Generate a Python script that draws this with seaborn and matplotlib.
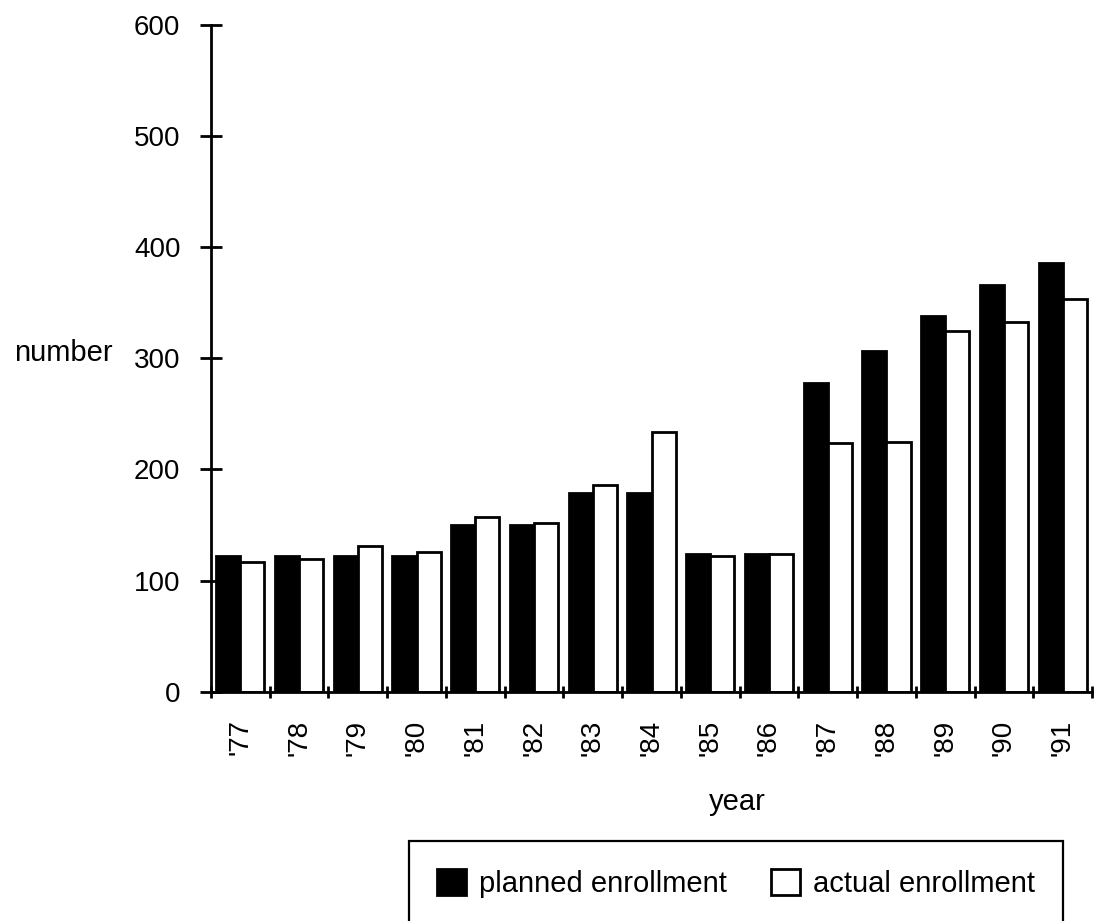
import matplotlib
matplotlib.use("Agg")
import matplotlib.pyplot as plt
import pandas as pd
import seaborn as sns

# values
years = ["'77", "'78", "'79", "'80", "'81", "'82", "'83", "'84",
         "'85", "'86", "'87", "'88", "'89", "'90", "'91"]
planned = [122, 122, 122, 122, 150, 150, 179, 179, 124, 124, 278, 307, 338, 366, 386]
actual = [117, 119, 131, 126, 157, 152, 186, 234, 122, 124, 224, 225, 325, 333, 353]
series_names = ["planned enrollment", "actual enrollment"]
y_ticks = [0, 100, 200, 300, 400, 500, 600]


def build_df():
    rows = []
    for i, year in enumerate(years):
        rows.append([year, series_names[0], planned[i]])
        rows.append([year, series_names[1], actual[i]])
    return pd.DataFrame(rows, columns=["year", "kind", "number"])


def main():
    df = build_df()

    sns.set_theme(style="ticks")
    plt.rcParams["font.family"] = ["Liberation Sans", "DejaVu Sans"]
    for key in ["text.color", "axes.labelcolor", "xtick.color", "ytick.color"]:
        plt.rcParams[key] = "black"

    fig = plt.figure(figsize=(10.96, 9.21), dpi=100)
    ax = fig.add_axes([211 / 1096, 1 - 691.7 / 921, 881 / 1096, (691.7 - 25) / 921])

    sns.barplot(data=df, x="year", y="number", hue="kind", hue_order=series_names,
                palette={series_names[0]: "black", series_names[1]: "white"},
                edgecolor="black", linewidth=2, width=0.82, saturation=1, ax=ax)

    ax.set_xlim(-0.5, len(years) - 0.5)
    ax.set_ylim(0, 600)
    ax.set_yticks(y_ticks)
    sns.despine(ax=ax)
    for side in ["left", "bottom"]:
        ax.spines[side].set_linewidth(2)
        ax.spines[side].set_color("black")

    # y ticks cross the axis
    ax.tick_params(axis="y", direction="inout", length=16, width=2, pad=14,
                   labelsize=20)
    # x labels at bar groups, tick marks between groups
    ax.set_xticks(range(len(years)))
    ax.set_xticks([i - 0.5 for i in range(len(years) + 1)], minor=True)
    ax.tick_params(axis="x", which="major", length=0, pad=20, labelsize=20,
                   labelrotation=90)
    ax.tick_params(axis="x", which="minor", direction="inout", length=9, width=2)

    ax.set_xlabel("year", fontsize=21)
    ax.xaxis.label.set_va("center")
    ax.xaxis.set_label_coords((737 - 211) / 881, (691.7 - 802) / 666.7)
    ax.set_ylabel("number", fontsize=21, rotation=0, ha="right", va="center")
    ax.yaxis.set_label_coords((113 - 211) / 881, (691.7 - 353) / 666.7)

    handles, labels = ax.get_legend_handles_labels()
    ax.get_legend().remove()
    leg = fig.legend(handles, labels, loc="upper left",
                     bbox_to_anchor=(409 / 1096, 1 - 841 / 921), borderaxespad=0,
                     ncol=2, frameon=True, fancybox=False, framealpha=1,
                     edgecolor="black", borderpad=0.95, handlelength=1.0,
                     handleheight=1.0, handletextpad=0.45, columnspacing=1.5,
                     prop={"size": 21})
    leg.get_frame().set_linewidth(1.6)

    fig.savefig("out.png", dpi=100, facecolor="white")
    plt.close(fig)


if __name__ == "__main__":
    main()
